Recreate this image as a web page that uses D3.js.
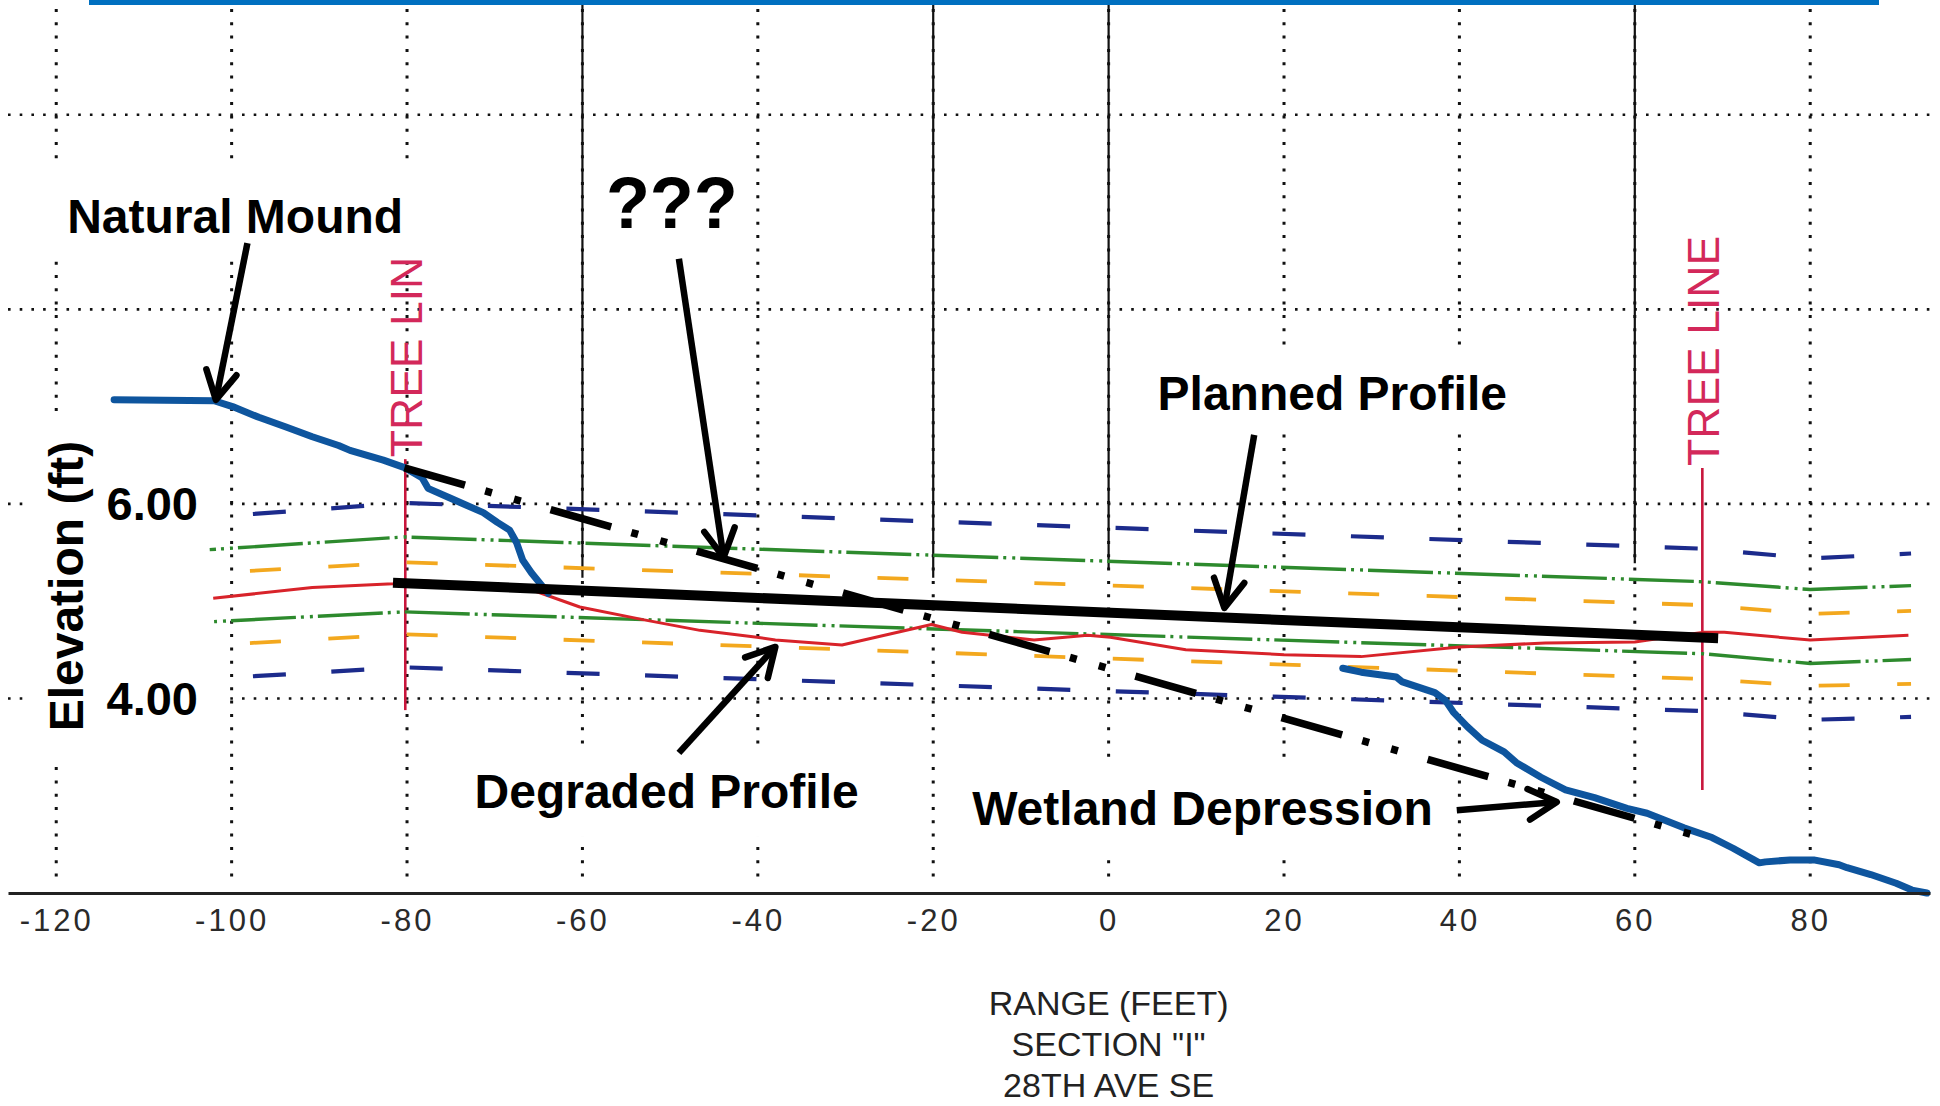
<!DOCTYPE html>
<html><head><meta charset="utf-8">
<script src="https://cdn.jsdelivr.net/npm/d3@7"></script>
<style>
html,body{margin:0;padding:0;background:#fff;}
svg{display:block;}
</style></head><body>
<script>
// ---------------- DATA ----------------
const xTicks = [-120,-100,-80,-60,-40,-20,0,20,40,60,80];
const yGridValues = [4,6,8,10];
const yTickLabels = [4,6];
const titleLines = ["RANGE (FEET)", 'SECTION "I"', "28TH AVE SE"];

// existing ground (blue) – natural mound side and wetland side
const groundMound = [[-113.4,7.07],[-102,7.06],[-99.9,7.0],[-96.9,6.89],[-93.8,6.79],[-90.8,6.69],[-87.8,6.6],[-86.5,6.55],[-82.7,6.45],[-80.2,6.37],[-78.3,6.27],[-77.6,6.16],[-75.1,6.06],[-71.3,5.91],[-69.7,5.81],[-68.3,5.73],[-67.5,5.6],[-66.8,5.42],[-65.8,5.29],[-63.9,5.08]];
const groundWetland = [[26.7,4.31],[28.8,4.27],[32.8,4.22],[33.5,4.17],[37.2,4.06],[38.4,3.98],[39.3,3.86],[40.9,3.71],[42.6,3.57],[45.1,3.45],[46.5,3.34],[49.3,3.19],[52.1,3.06],[55.4,2.98],[59.1,2.87],[61.4,2.82],[65.6,2.67],[68.8,2.57],[71.2,2.46],[74.2,2.31],[74.9,2.32],[77.7,2.34],[80.4,2.34],[83.3,2.29],[84.2,2.26],[86.9,2.19],[89.8,2.10],[91.6,2.03],[93.3,2.0]];
// degraded profile (red)
const degradedProfile = [[-102.1,5.03],[-90.8,5.14],[-81.6,5.18],[-78.1,5.21],[-70.5,5.15],[-65.9,5.12],[-60.3,4.94],[-53.1,4.81],[-46.6,4.70],[-40.1,4.63],[-38.0,4.60],[-30.4,4.55],[-20.2,4.76],[-16.7,4.68],[-8.5,4.60],[-2.4,4.65],[0.2,4.63],[8.8,4.50],[20.0,4.45],[28.8,4.43],[40.0,4.53],[49.8,4.57],[60.0,4.58],[63.7,4.63],[67.9,4.68],[70.2,4.68],[80.0,4.60],[91.2,4.65]];
// planned profile (thick black)
const plannedProfile = [[-81.6,5.19],[69.5,4.62]];
// "???" line (dash-dot-dot)
const questionLine = [[-80.3,6.37],[67.3,2.58]];
// design offset lines
const upperBlue   = [[-101.5,5.87],[-80.3,6.01],[67.7,5.54],[80,5.44],[91.5,5.49]];
const upperGreen  = [[-102.5,5.53],[-80.3,5.66],[67.7,5.20],[80,5.12],[91.5,5.16]];
const upperOrange = [[-102,5.29],[-80.3,5.40],[67.7,4.96],[80,4.87],[91.5,4.90]];
const lowerGreen  = [[-102,4.79],[-80.3,4.89],[67.7,4.46],[80,4.36],[91.5,4.40]];
const lowerOrange = [[-101.7,4.55],[-80.3,4.66],[67.7,4.20],[80,4.13],[91.5,4.15]];
const lowerBlue   = [[-101,4.21],[-80.3,4.32],[67.7,3.87],[80,3.78],[91.5,3.81]];
// tree lines and station lines
const treeLines = [{x:-80.2, top:6.46, bottom:3.88, label:"TREE LINE"},{x:67.7, top:6.37, bottom:3.06, label:"TREE LINE"}];
const stationLines = [{x:-60, bottom:5.24},{x:-20, bottom:5.24},{x:0, bottom:5.33},{x:60, bottom:5.39}];
// annotations (data units)
const labelTexts = ["Natural Mound","???","Planned Profile","Degraded Profile","Wetland Depression"];
const labelX = [-99.6,-49.8,25.5,-50.4,10.7];
const labelY = [8.785,8.836,6.965,2.874,2.699];
const arrows = [[-98.2,8.68,-101.8,7.07],[-49.0,8.52,-43.9,5.45],[16.6,6.71,13.2,4.93],[-49.0,3.44,-38.0,4.53],[39.7,2.85,51.1,2.935]];

// ---------------- CHART ----------------
const W=1940,H=1106;
const svg = d3.select("body").append("svg").attr("width",W).attr("height",H);
const x = d3.scaleLinear().domain([-125.5,93.66]).range([8,1930]);
const y = d3.scaleLinear().domain([2,11.18]).range([893,0]);

const gGrid = svg.append("g");
const gTreeText = svg.append("g");
const gBox = svg.append("g");
const gData = svg.append("g");
const gAnno = svg.append("g");

// top blue bar
svg.append("rect").attr("x",89).attr("y",0).attr("width",1790).attr("height",5).attr("fill","#0070c0");

// grid
gGrid.selectAll(".hg").data(yGridValues).join("line")
  .attr("x1",8).attr("x2",1930).attr("y1",d=>y(d)).attr("y2",d=>y(d))
  .attr("stroke","#111").attr("stroke-width",2.6).attr("stroke-dasharray","2.6 9.1");
gGrid.selectAll(".vg").data(xTicks).join("line")
  .attr("x1",d=>x(d)).attr("x2",d=>x(d)).attr("y1",9).attr("y2",882)
  .attr("stroke","#111").attr("stroke-width",3).attr("stroke-dasharray","3 10.3");

// tree line labels (behind label boxes)
treeLines.forEach(t=>{
  gTreeText.append("text").text(t.label)
    .attr("transform",`translate(${x(t.x)+17},${y(t.top)-2}) rotate(-90)`)
    .attr("font-family","Liberation Sans, Arial, sans-serif").attr("font-size",44.5)
    .attr("fill","#d3285a");
});

// x axis
const xAxis = svg.append("g").attr("transform",`translate(0,${y(2)})`)
  .call(d3.axisBottom(x).tickValues(xTicks).tickSize(0).tickSizeOuter(0).tickPadding(16).tickFormat(d=>String(d)));
xAxis.select(".domain").attr("stroke","#222").attr("stroke-width",3);
xAxis.selectAll("text").attr("font-family","Liberation Sans, Arial, sans-serif").attr("font-size",31)
  .attr("letter-spacing",3).attr("fill","#2a2a2a");

// y labels
const yAxis = svg.append("g").attr("transform","translate(198,0)")
  .call(d3.axisLeft(y).tickValues(yTickLabels).tickSize(0).tickPadding(0).tickFormat(d3.format(".2f")));
yAxis.select(".domain").remove();
yAxis.selectAll("text").attr("font-family","Liberation Sans, Arial, sans-serif").attr("font-size",47)
  .attr("font-weight","bold").attr("fill","#000").attr("dy","0.34em");

const elev = svg.append("text").text("Elevation (ft)")
  .attr("transform","translate(83,586) rotate(-90)").attr("text-anchor","middle")
  .attr("font-family","Liberation Sans, Arial, sans-serif").attr("font-size",48).attr("font-weight","bold");

// title block
titleLines.forEach((t,i)=>{
  svg.append("text").text(t).attr("x",x(0)).attr("y",1015+i*41).attr("text-anchor","middle")
    .attr("font-family","Liberation Sans Narrow, Arial Narrow, sans-serif").attr("font-size",34).attr("fill","#222");
});

// white label boxes helper
function box(node,pl,pr,pt,pb){
  const r=node.getBoundingClientRect();
  gBox.append("rect").attr("x",r.left-pl).attr("y",r.top-pt).attr("width",r.width+pl+pr).attr("height",r.height+pt+pb).attr("fill","#fff");
}
box(elev.node(),17,5,24,29);
yAxis.selectAll("text").each(function(d){ box(this,10,d===6?25:30,0,0); });

// tree lines & station lines
gData.selectAll(".tree").data(treeLines).join("line")
  .attr("x1",d=>x(d.x)).attr("x2",d=>x(d.x)).attr("y1",d=>y(d.top)).attr("y2",d=>y(d.bottom))
  .attr("stroke","#c8163c").attr("stroke-width",2.6);
gData.selectAll(".sta").data(stationLines).join("line")
  .attr("x1",d=>x(d.x)).attr("x2",d=>x(d.x)).attr("y1",y(11.18)).attr("y2",d=>y(d.bottom))
  .attr("stroke","#111").attr("stroke-width",2.2);

const line = d3.line().x(d=>x(d[0])).y(d=>y(d[1]));
function dashOffset(arr, firstDashPx, period){
  const d=(((firstDashPx - x(arr[0][0])) % period)+period)%period; return period-d;
}
function offsetLine(arr,color,w,dash,period,first){
  gData.append("path").attr("d",line(arr)).attr("fill","none").attr("stroke",color).attr("stroke-width",w)
    .attr("stroke-dasharray",dash).attr("stroke-dashoffset",dashOffset(arr,first,period));
}
offsetLine(upperBlue,"#1c2b8c",4.2,"33 45.5",78.5,724);
offsetLine(lowerBlue,"#1c2b8c",4.2,"33 45.5",78.5,724);
offsetLine(upperOrange,"#f3a81e",3.8,"31 47.5",78.5,721);
offsetLine(lowerOrange,"#f3a81e",3.8,"31 47.5",78.5,721);
offsetLine(upperGreen,"#2d8a2d",3.4,"65 5 3 6 3 5",87,760);
offsetLine(lowerGreen,"#2d8a2d",3.4,"65 5 3 6 3 5",87,753);

gData.append("path").attr("d",line(degradedProfile)).attr("fill","none").attr("stroke","#d8232a").attr("stroke-width",3).attr("stroke-linejoin","round");
[groundMound,groundWetland].forEach(g=>{
  gData.append("path").attr("d",line(g)).attr("fill","none").attr("stroke","#0e559e").attr("stroke-width",7).attr("stroke-linejoin","round").attr("stroke-linecap","round");
});
gData.append("path").attr("d",line(plannedProfile)).attr("fill","none").attr("stroke","#000").attr("stroke-width",10);
gData.append("path").attr("d",line(questionLine)).attr("fill","none").attr("stroke","#000").attr("stroke-width",7.5)
  .attr("stroke-dasharray","63 21 7 23 7 31");

// labels
labelTexts.forEach((t,i)=>{
  const tx = gAnno.append("text").text(t).attr("x",x(labelX[i])).attr("y",y(labelY[i])).attr("text-anchor","middle")
    .attr("font-family","Liberation Sans, Arial, sans-serif").attr("font-weight","bold")
    .attr("font-size", t==="???"?72:48).attr("fill","#000");
  const pads = {"Natural Mound":[30,26,22,17],"Planned Profile":[13,9,15,13],"Degraded Profile":[11,13,15,19],"Wetland Depression":[13,8,19,15]};
  if(pads[t]) box(tx.node(),...pads[t]);
});

// arrows
arrows.forEach(a=>{
  const x1=x(a[0]),y1=y(a[1]),x2=x(a[2]),y2=y(a[3]);
  const ang=Math.atan2(y2-y1,x2-x1), L=32, th=0.5;
  const w1=[x2-L*Math.cos(ang-th),y2-L*Math.sin(ang-th)], w2=[x2-L*Math.cos(ang+th),y2-L*Math.sin(ang+th)];
  gAnno.append("line").attr("x1",x1).attr("y1",y1).attr("x2",x2).attr("y2",y2).attr("stroke","#000").attr("stroke-width",6.5);
  gAnno.append("path").attr("d",`M${w1[0]},${w1[1]}L${x2},${y2}L${w2[0]},${w2[1]}`).attr("fill","none")
    .attr("stroke","#000").attr("stroke-width",6.5).attr("stroke-linejoin","round").attr("stroke-linecap","round");
});
</script>
</body></html>
